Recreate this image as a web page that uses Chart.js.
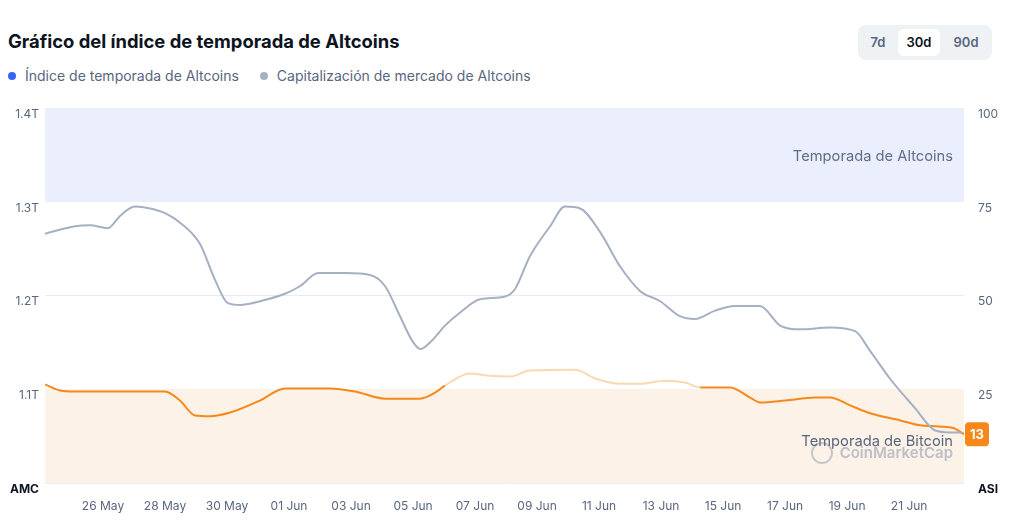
<!DOCTYPE html>
<html>
<head>
<meta charset="utf-8">
<script src="https://cdn.jsdelivr.net/npm/chart.js@4"></script>
<style>
  body { margin: 0; background: #fff; font-family: Inter, "Noto Sans", sans-serif; width: 1024px; height: 521px; overflow: hidden; position: relative; }
  #title { position: absolute; left: 8px; top: 30px; font-size: 18.4px; font-weight: 700; color: #0d1421; }
  #legend { position: absolute; left: 8px; top: 67px; font-size: 14px; color: #58667e; }
  #legend span.dot { display: inline-block; width: 8px; height: 8px; border-radius: 50%; margin-right: 9px; vertical-align: 1px; }
  #legend span.item { margin-right: 17px; }
  #range { position: absolute; left: 858px; top: 25px; width: 134px; height: 35px; background: #eff2f5; border-radius: 8px; font-size: 13px; font-weight: 600; color: #58667e; }
  #range div { position: absolute; top: 4px; height: 27px; line-height: 27px; text-align: center; border-radius: 6px; }
  #wrap { position: absolute; left: 0; top: 95px; width: 1000px; height: 420px; }
</style>
</head>
<body>
<div id="title">Gráfico del índice de temporada de Altcoins</div>
<div id="legend">
  <span class="item"><span class="dot" style="background:#3861fb"></span>Índice de temporada de Altcoins</span>
  <span class="item"><span class="dot" style="background:#a6b0c3"></span>Capitalización de mercado de Altcoins</span>
</div>
<div id="range">
  <div style="left:4px;width:32px">7d</div>
  <div style="left:40px;width:42px;background:#fff;color:#0d1421">30d</div>
  <div style="left:86px;width:44px">90d</div>
</div>
<div id="wrap"><canvas id="chart"></canvas></div>
<script>
// x in days since 24 May
const dateLabels = ['24 May','25 May','26 May','27 May','28 May','29 May','30 May','31 May','01 Jun','02 Jun','03 Jun','04 Jun','05 Jun','06 Jun','07 Jun','08 Jun','09 Jun','10 Jun','11 Jun','12 Jun','13 Jun','14 Jun','15 Jun','16 Jun','17 Jun','18 Jun','19 Jun','20 Jun','21 Jun','22 Jun','23 Jun']

const capDays = [0.13,1.10,1.58,2.16,2.55,3.03,3.52,4.0,4.48,5.13,5.61,6.03,6.42,7.06,7.87,8.35,8.94,9.81,10.61,11.10,11.58,11.97,12.23,12.61,13.03,13.52,14.16,14.97,15.29,15.77,16.42,16.90,17.39,18.03,18.68,19.32,19.97,20.61,21.10,21.74,22.39,23.19,23.84,24.48,25.45,26.26,26.74,27.39,28.19,28.84,29.32,29.71]
const capValues = [1.266,1.274,1.275,1.272,1.285,1.295,1.293,1.288,1.278,1.255,1.217,1.192,1.190,1.194,1.202,1.210,1.224,1.224,1.222,1.210,1.178,1.152,1.143,1.152,1.168,1.182,1.196,1.199,1.207,1.242,1.274,1.295,1.293,1.268,1.231,1.205,1.194,1.178,1.175,1.184,1.189,1.189,1.168,1.164,1.166,1.162,1.141,1.111,1.080,1.056,1.054,1.054]

const indexDays = [0.13,0.61,1.10,4.0,4.48,4.97,5.45,6.10,7.06,7.87,9.32,10.13,11.10,12.23,12.71,13.03,13.84,14.48,15.13,15.77,17.23,17.87,18.68,19.32,20.13,20.77,21.26,22.23,22.87,23.19,24.0,24.97,25.45,26.10,26.74,27.71,28.35,28.97,29.45,29.77]
const indexValues = [26.3,24.7,24.4,24.4,22.0,18.0,17.8,18.8,22.0,25.2,25.2,24.4,22.5,22.5,24.1,26.0,29.2,28.6,28.4,30.0,30.2,27.9,26.5,26.5,27.3,26.8,25.5,25.5,22.8,21.5,22.0,22.8,22.8,20.7,18.6,16.7,15.4,15.1,14.6,13]

const leftTicks = [1.0, 1.1, 1.2, 1.3, 1.4]
const rightTicks = [0, 25, 50, 75, 100]

const bandsPlugin = {
  id: 'bands',
  beforeDatasetsDraw(chart) {
    const {ctx, chartArea: a, scales} = chart
    const y = scales.yIdx
    ctx.save()
    ctx.fillStyle = '#eaeefd'
    ctx.fillRect(a.left, y.getPixelForValue(100), a.right - a.left, y.getPixelForValue(75) - y.getPixelForValue(100))
    ctx.fillStyle = '#fdf2e7'
    ctx.fillRect(a.left, y.getPixelForValue(25), a.right - a.left, y.getPixelForValue(0) - y.getPixelForValue(25))
    ctx.font = '14.7px Inter, "Noto Sans", sans-serif'
    ctx.fillStyle = '#616e85'
    ctx.textAlign = 'right'
    ctx.textBaseline = 'middle'
    ctx.fillText('Temporada de Altcoins', a.right - 11, y.getPixelForValue(87))
    ctx.fillStyle = 'rgba(160,170,185,0.7)'
    ctx.font = '600 15px Inter, "Noto Sans", sans-serif'
    ctx.fillText('CoinMarketCap', a.right - 11, y.getPixelForValue(8))
    ctx.beginPath()
    ctx.arc(a.right - 142, y.getPixelForValue(8), 10, 0, Math.PI * 2)
    ctx.lineWidth = 2
    ctx.strokeStyle = 'rgba(160,170,185,0.6)'
    ctx.stroke()
    ctx.restore()
  },
  afterDatasetsDraw(chart) {
    const {ctx, chartArea: a, scales} = chart
    const y = scales.yIdx
    ctx.save()
    ctx.font = '14.7px Inter, "Noto Sans", sans-serif'
    ctx.fillStyle = '#58667e'
    ctx.textAlign = 'right'
    ctx.textBaseline = 'middle'
    ctx.fillText('Temporada de Bitcoin', a.right - 11, y.getPixelForValue(11))
    // current value badge
    const last = indexValues[indexValues.length - 1]
    const py = y.getPixelForValue(last)
    ctx.fillStyle = '#f68819'
    ctx.beginPath()
    ctx.roundRect(a.right + 1, py - 12, 24, 24, 4)
    ctx.fill()
    ctx.fillStyle = '#fff'
    ctx.font = '700 13px Inter, "Noto Sans", sans-serif'
    ctx.textAlign = 'center'
    ctx.fillText(String(last), a.right + 13, py + 1)
    ctx.restore()
  }
}

const tickFont = (ctx) => (ctx.tick && (ctx.tick.value === 0 || ctx.tick.value === 1.0))
  ? {family: 'Inter, "Noto Sans", sans-serif', size: 12, weight: '700'}
  : {family: 'Inter, "Noto Sans", sans-serif', size: 12}

// faded where the index sits above the Bitcoin band
const aboveBand = c => {
  const a = c.p0.parsed.y, b = c.p1.parsed.y
  return Math.min(a, b) > 25.3 && Math.max(a, b) > 25.8
}

new Chart(document.getElementById('chart'), {
  type: 'line',
  data: {
    datasets: [
      {
        label: 'Capitalización de mercado de Altcoins',
        data: capDays.map((d, i) => ({x: d, y: capValues[i]})),
        yAxisID: 'yCap',
        borderColor: '#a6b0c3',
        borderWidth: 2,
        pointRadius: 0,
        cubicInterpolationMode: 'monotone'
      },
      {
        label: 'Índice de temporada de Altcoins',
        data: indexDays.map((d, i) => ({x: d, y: indexValues[i]})),
        yAxisID: 'yIdx',
        borderColor: '#f68819',
        borderWidth: 2,
        pointRadius: 0,
        cubicInterpolationMode: 'monotone',
        segment: {
          borderColor: c => aboveBand(c) ? '#f9d9b3' : '#f68819'
        }
      }
    ]
  },
  options: {
    responsive: true,
    maintainAspectRatio: false,
    animation: false,
    layout: {padding: {top: 11}},
    plugins: {legend: {display: false}, tooltip: {enabled: false}},
    scales: {
      x: {
        type: 'linear',
        min: 0.13,
        max: 29.77,
        grid: {display: false},
        border: {display: false},
        afterBuildTicks: s => { s.ticks = []; for (let d = 2; d <= 28; d += 2) s.ticks.push({value: d}) },
        afterFit: s => { s.height = 32 },
        ticks: {
          color: '#58667e',
          font: {family: 'Inter, "Noto Sans", sans-serif', size: 12},
          padding: 8,
          maxRotation: 0,
          autoSkip: false,
          callback: v => dateLabels[v]
        }
      },
      yCap: {
        position: 'left',
        min: 1.0,
        max: 1.4,
        afterBuildTicks: s => { s.ticks = leftTicks.map(v => ({value: v})) },
        afterFit: s => { s.width = 45 },
        grid: {color: 'rgba(220,224,232,0.6)', drawTicks: false, lineWidth: 1},
        border: {display: false},
        ticks: {
          color: c => (c.tick && c.tick.value === 1.0) ? '#0d1421' : '#58667e',
          font: tickFont,
          labelOffset: 6,
          padding: 6,
          callback: v => v === 1.0 ? 'AMC' : v.toFixed(1) + 'T'
        }
      },
      yIdx: {
        position: 'right',
        min: 0,
        max: 100,
        afterBuildTicks: s => { s.ticks = rightTicks.map(v => ({value: v})) },
        afterFit: s => { s.width = 36 },
        grid: {display: false},
        border: {display: false},
        ticks: {
          color: c => (c.tick && c.tick.value === 0) ? '#0d1421' : '#58667e',
          font: tickFont,
          labelOffset: 6,
          padding: 6,
          callback: v => v === 0 ? 'ASI' : String(v)
        }
      }
    }
  },
  plugins: [bandsPlugin]
})
</script>
</body>
</html>
